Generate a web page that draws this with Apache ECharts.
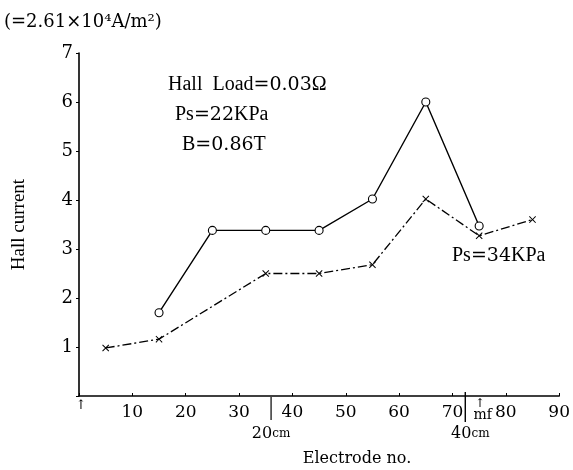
<!DOCTYPE html>
<html><head><meta charset="utf-8">
<script src="https://cdn.jsdelivr.net/npm/echarts@6/dist/echarts.min.js"></script>
<style>html,body{margin:0;padding:0;background:#fff}#c{width:573px;height:470px}</style>
</head><body><div id="c"></div>
<script>
// Data
const electrodes22 = [15, 25, 35, 45, 55, 65, 75];
const current22 = [1.70, 3.38, 3.38, 3.38, 4.02, 6.00, 3.47];
const electrodes34 = [5, 15, 35, 45, 55, 65, 75, 85];
const current34 = [0.98, 1.16, 2.50, 2.50, 2.68, 4.02, 3.27, 3.60];
const xTicks = [10, 20, 30, 40, 50, 60, 70, 80, 90];
const yTicks = [1, 2, 3, 4, 5, 6, 7];

const SERIF_D = '"DejaVu Serif", serif';
const SERIF_L = '"Liberation Serif", serif';
const crossPath = 'path://M0,1 L1,0 L5,4 L9,0 L10,1 L6,5 L10,9 L9,10 L5,6 L1,10 L0,9 L4,5 Z';

const chart = echarts.init(document.getElementById('c'), null, {renderer: 'canvas'});
const option = {
  animation: false,
  backgroundColor: '#fff',
  grid: {left: 79, right: 11, top: 53, bottom: 74, containLabel: false},
  xAxis: {
    type: 'value', min: 0, max: 90, interval: 10,
    axisLine: {show: true, onZero: false, lineStyle: {color: '#000', width: 1.6}},
    axisTick: {show: true, inside: true, length: 3, lineStyle: {color: '#000', width: 1}},
    axisLabel: {color: '#000', fontFamily: SERIF_D, fontSize: 17, margin: 8,
      formatter: v => xTicks.indexOf(v) >= 0 ? String(v) : ''},
    splitLine: {show: false}
  },
  yAxis: {
    type: 'value', min: 0, max: 7, interval: 1,
    name: 'Hall current', nameLocation: 'middle', nameGap: 50,
    nameTextStyle: {color: '#000', fontFamily: SERIF_L, fontSize: 19},
    axisLine: {show: true, onZero: false, lineStyle: {color: '#000', width: 1.6}},
    axisTick: {show: true, inside: false, length: 3, lineStyle: {color: '#000', width: 1}},
    axisLabel: {color: '#000', fontFamily: SERIF_D, fontSize: 18, margin: 6,
      formatter: v => yTicks.indexOf(v) >= 0 ? String(v) : ''},
    splitLine: {show: false}
  },
  series: [
    {
      type: 'line', name: 'Ps=22KPa',
      data: electrodes22.map((x, i) => [x, current22[i]]),
      symbol: 'circle', symbolSize: 8,
      lineStyle: {color: '#000', width: 1.4},
      itemStyle: {color: '#fff', borderColor: '#000', borderWidth: 1.1}
    },
    {
      type: 'line', name: 'Ps=34KPa',
      data: electrodes34.map((x, i) => [x, current34[i]]),
      symbol: crossPath, symbolSize: 7,
      lineStyle: {color: '#000', width: 1.3, type: [9, 3, 2, 3]},
      itemStyle: {color: '#000'}
    }
  ]
};
chart.setOption(option);

const px = (x, y) => chart.convertToPixel({gridIndex: 0}, [x, y]);
const o = px(0, 0);
const m20 = px(36, 0);
const m40 = px(72.4, 0);
const mf = px(75.5, 0);

function rt(text, x, y, size) {
  return {
    type: 'text', x: x, y: y,
    style: {
      text: text, fill: '#000', verticalAlign: 'middle', align: 'left',
      rich: {
        l: {fontFamily: SERIF_L, fontSize: size + 1, fill: '#000'},
        d: {fontFamily: SERIF_D, fontSize: size, fill: '#000'}
      }
    }
  };
}

chart.setOption({
  graphic: [
    {type: 'text', x: 4, y: 22, style: {text: '(=2.61×10⁴A/m²)', fontFamily: SERIF_D, fontSize: 18, fill: '#000', verticalAlign: 'middle'}},
    rt('{l|Hall  Load}{d|=0.03}{l|Ω}', 168, 85, 19),
    rt('{l|Ps}{d|=22}{l|KPa}', 175, 115, 19),
    rt('{l|B}{d|=0.86}{l|T}', 182, 145, 19),
    rt('{l|Ps}{d|=34}{l|KPa}', 452, 256, 19),
    // origin arrow
    {type: 'text', x: o[0] + 2, y: o[1] + 10, style: {text: '↑', fontFamily: SERIF_D, fontSize: 13, fill: '#000', align: 'center', verticalAlign: 'middle'}},
    // 20cm marker
    {type: 'line', shape: {x1: m20[0], y1: m20[1] + 1, x2: m20[0], y2: m20[1] + 24}, style: {stroke: '#000', lineWidth: 1.2}},
    {type: 'text', x: m20[0], y: m20[1] + 38, style: {text: '{d|20}{c|cm}', align: 'center', verticalAlign: 'middle',
      rich: {d: {fontFamily: SERIF_D, fontSize: 16, fill: '#000'}, c: {fontFamily: SERIF_D, fontSize: 12, fill: '#000'}}}},
    // 40cm marker
    {type: 'line', shape: {x1: m40[0], y1: m40[1] - 4, x2: m40[0], y2: m40[1] + 26}, style: {stroke: '#000', lineWidth: 1.4}},
    {type: 'text', x: m40[0] + 5, y: m40[1] + 38, style: {text: '{d|40}{c|cm}', align: 'center', verticalAlign: 'middle',
      rich: {d: {fontFamily: SERIF_D, fontSize: 16, fill: '#000'}, c: {fontFamily: SERIF_D, fontSize: 12, fill: '#000'}}}},
    // mf arrow
    {type: 'text', x: mf[0] - 2, y: mf[1] + 8, style: {text: '↑', fontFamily: SERIF_D, fontSize: 12, fill: '#000', align: 'center', verticalAlign: 'middle'}},
    {type: 'text', x: mf[0] + 1, y: mf[1] + 19, style: {text: 'mf', fontFamily: SERIF_D, fontSize: 14, fill: '#000', align: 'center', verticalAlign: 'middle'}},
    // x axis title
    {type: 'text', x: 357, y: 459, style: {text: 'Electrode no.', fontFamily: SERIF_D, fontSize: 16, fill: '#000', align: 'center', verticalAlign: 'middle'}}
  ]
});
</script></body></html>
